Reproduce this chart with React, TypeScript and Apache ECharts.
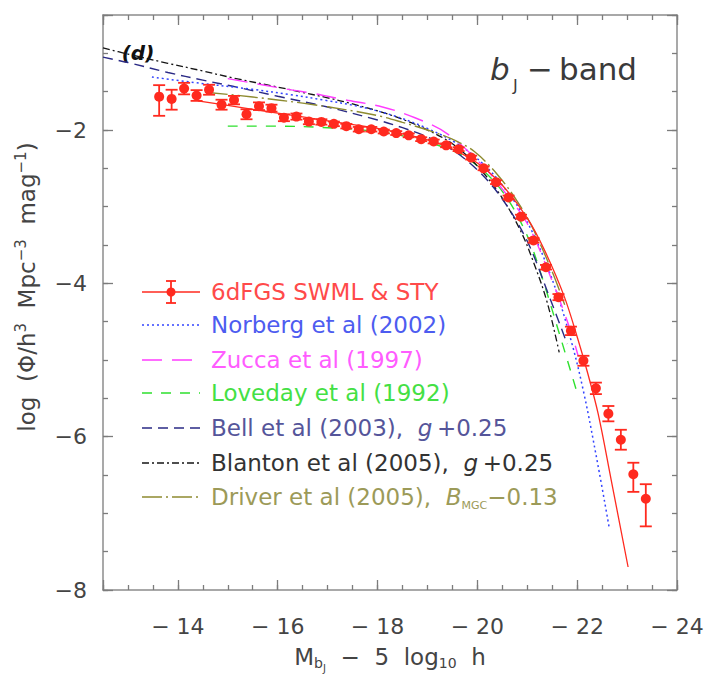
import React, { useEffect, useRef } from 'react';
import * as echarts from 'echarts';

// ---- data ----
const magnitudes = [
  -13.625, -13.875, -14.125, -14.375, -14.625, -14.875, -15.125, -15.375, -15.625, -15.875,
  -16.125, -16.375, -16.625, -16.875, -17.125, -17.375, -17.625, -17.875, -18.125, -18.375,
  -18.625, -18.875, -19.125, -19.375, -19.625, -19.875, -20.125, -20.375, -20.625, -20.875,
  -21.125, -21.375, -21.625, -21.875, -22.125, -22.375, -22.625, -22.875, -23.125, -23.375,
];
const swmlLogPhi = [
  -1.565, -1.595, -1.46, -1.55, -1.475, -1.67, -1.61, -1.795, -1.69, -1.715,
  -1.84, -1.825, -1.89, -1.895, -1.92, -1.95, -1.99, -1.99, -2.02, -2.04,
  -2.07, -2.12, -2.15, -2.2, -2.25, -2.36, -2.5, -2.68, -2.88, -3.13,
  -3.44, -3.79, -4.18, -4.62, -5.01, -5.37, -5.7, -6.04, -6.49, -6.81,
];
const swmlErrUp = [
  0.15, 0.12, 0.075, 0.07, 0.065, 0.065, 0.055, 0.065, 0.05, 0.045,
  0.045, 0.04, 0.035, 0.035, 0.03, 0.03, 0.03, 0.03, 0.025, 0.025,
  0.025, 0.025, 0.025, 0.025, 0.025, 0.025, 0.025, 0.025, 0.025, 0.025,
  0.03, 0.03, 0.04, 0.055, 0.065, 0.075, 0.1, 0.13, 0.15, 0.19,
];
const swmlErrDown = [
  0.25, 0.14, 0.075, 0.07, 0.065, 0.065, 0.055, 0.065, 0.05, 0.045,
  0.045, 0.04, 0.035, 0.035, 0.03, 0.03, 0.03, 0.03, 0.025, 0.025,
  0.025, 0.025, 0.025, 0.025, 0.025, 0.025, 0.025, 0.025, 0.025, 0.025,
  0.03, 0.03, 0.04, 0.055, 0.065, 0.075, 0.1, 0.13, 0.23, 0.36,
];

const styFit = [
  [-14.4, -1.62], [-15, -1.68], [-16, -1.78], [-17, -1.88], [-18, -1.98], [-18.5, -2.05],
  [-19, -2.13], [-19.5, -2.25], [-20, -2.43], [-20.5, -2.72], [-21, -3.15], [-21.34, -3.56],
  [-21.74, -4.17], [-22.01, -4.72], [-22.21, -5.17], [-22.42, -5.7], [-22.68, -6.56], [-23.02, -7.7],
];
const norberg = [
  [-13.48, -1.31], [-14.45, -1.39], [-15.5, -1.47], [-16.26, -1.54], [-16.93, -1.61], [-17.6, -1.69],
  [-18.26, -1.8], [-18.93, -1.96], [-19.6, -2.18], [-20.13, -2.45], [-20.5, -2.72], [-21, -3.2],
  [-21.5, -3.95], [-21.88, -4.75], [-22.14, -5.45], [-22.41, -6.35], [-22.64, -7.18],
];
const zucca = [
  [-15.0, -1.33], [-15.6, -1.4], [-16.3, -1.48], [-16.7, -1.52], [-17.3, -1.6], [-18.1, -1.7],
  [-18.75, -1.84], [-19.4, -2.05], [-20.13, -2.48], [-20.5, -2.77], [-21.0, -3.22], [-21.5, -3.97],
  [-21.88, -4.64], [-22.02, -4.95],
];
const loveday = [
  [-15.0, -1.95], [-16.0, -1.95], [-17.0, -1.97], [-18.0, -2.02], [-18.6, -2.09], [-19.3, -2.22],
  [-19.87, -2.4], [-20.5, -2.8], [-21.0, -3.38], [-21.3, -3.93], [-21.57, -4.5], [-22.01, -5.45],
];
const bell = [
  [-12.5, -1.05], [-13.0, -1.12], [-13.8, -1.25], [-14.5, -1.35], [-15.1, -1.43], [-16.0, -1.56],
  [-17.0, -1.7], [-18.0, -1.87], [-18.5, -1.97], [-19.0, -2.09], [-19.5, -2.26], [-20.0, -2.52],
  [-20.5, -2.9], [-21.0, -3.45], [-21.44, -4.17], [-21.8, -4.79],
];
const blanton = [
  [-12.5, -0.93], [-13.0, -1.01], [-13.8, -1.13], [-14.5, -1.23], [-15.1, -1.32], [-16.0, -1.44],
  [-16.5, -1.51], [-17.0, -1.58], [-17.5, -1.66], [-18.0, -1.75], [-18.5, -1.86], [-19.0, -2.0],
  [-19.5, -2.18], [-20.0, -2.47], [-20.47, -2.86], [-20.87, -3.32], [-21.14, -3.75], [-21.4, -4.25],
  [-21.64, -4.9],
];
const driver = [
  [-14.6, -1.51], [-15.5, -1.57], [-16.5, -1.65], [-17.5, -1.75], [-18.06, -1.82], [-18.5, -1.9],
  [-19.0, -2.0], [-19.5, -2.12], [-19.94, -2.28], [-20.4, -2.58], [-20.8, -2.93], [-21.11, -3.28],
  [-21.5, -3.85], [-21.75, -4.28],
];

const X_MIN = -24, X_MAX = -12.5, Y_MIN = -8, Y_MAX = -0.5;

const FONT = 'DejaVu Sans';
const RED = '#ff2a1f';

interface CurveDef { name: string; data: number[][]; color: string; dash: number[]; width: number; textColor: string; label: string; }

const curves: CurveDef[] = [
  { name: 'Loveday', data: loveday, color: '#2ee02e', dash: [10, 9], width: 1.4, textColor: '#44e044', label: '{n|Loveday et al (1992)}' },
  { name: 'Blanton', data: blanton, color: '#151515', dash: [7, 3, 2, 3], width: 1.3, textColor: '#333333', label: '{n|Blanton et al (2005),  }{i|g}{n|\u2009+0.25}' },
  { name: 'Bell', data: bell, color: '#2a2a85', dash: [10, 6], width: 1.4, textColor: '#55559a', label: '{n|Bell et al (2003),  }{i|g}{n|\u2009+0.25}' },
  { name: 'Norberg', data: norberg, color: '#3344ff', dash: [2, 3], width: 1.5, textColor: '#4d5cf0', label: '{n|Norberg et al (2002)}' },
  { name: 'Zucca', data: zucca, color: '#ff3cff', dash: [20, 10], width: 1.4, textColor: '#ff5cff', label: '{n|Zucca et al (1997)}' },
  { name: 'Driver', data: driver, color: '#8e8b30', dash: [20, 4, 2, 4], width: 1.4, textColor: '#9c9a58', label: '{n|Driver et al (2005),  }{i|B}{s|MGC}{n|\u22120.13}' },
];

const legendOrder = ['Norberg', 'Zucca', 'Loveday', 'Bell', 'Blanton', 'Driver'];

export default function App() {
  const ref = useRef<HTMLDivElement>(null);
  useEffect(() => {
    if (!ref.current) return;
    const chart = echarts.init(ref.current, undefined, { renderer: 'svg' });

    const axisLineStyle = { color: '#8c8c8c', width: 1.5 };
    const tickStyle = { color: '#7c7c7c', width: 1.3 };
    const xBase = { type: 'value', min: X_MIN, max: X_MAX, inverse: true, splitLine: { show: false } };
    const yBase = { type: 'value', min: Y_MIN, max: Y_MAX, splitLine: { show: false } };
    const fmtX = (v: number) => (Math.abs(v % 2) < 1e-9 ? '\u2212 ' + Math.abs(v) : '');
    const fmtY = (v: number) => (Math.abs(v % 2) < 1e-9 ? '\u2212' + Math.abs(v) : '');

    const xAxis = [
      { ...xBase, position: 'bottom', interval: 2,
        axisLine: { show: true, onZero: false, lineStyle: axisLineStyle },
        axisTick: { show: true, inside: true, length: 10, lineStyle: tickStyle },
        axisLabel: { show: true, margin: 25, fontSize: 22, color: '#444', fontFamily: FONT, formatter: fmtX } },
      { ...xBase, position: 'bottom', interval: 0.5,
        axisLine: { show: false, onZero: false },
        axisTick: { show: true, inside: true, length: 5, lineStyle: tickStyle }, axisLabel: { show: false } },
      { ...xBase, position: 'top', interval: 2,
        axisLine: { show: true, onZero: false, lineStyle: axisLineStyle },
        axisTick: { show: true, inside: true, length: 10, lineStyle: tickStyle }, axisLabel: { show: false } },
      { ...xBase, position: 'top', interval: 0.5,
        axisLine: { show: false, onZero: false },
        axisTick: { show: true, inside: true, length: 5, lineStyle: tickStyle }, axisLabel: { show: false } },
    ];
    const yAxis = [
      { ...yBase, position: 'left', interval: 2,
        axisLine: { show: true, onZero: false, lineStyle: axisLineStyle },
        axisTick: { show: true, inside: true, length: 10, lineStyle: tickStyle },
        axisLabel: { show: true, margin: 16, fontSize: 22, color: '#444', fontFamily: FONT, formatter: fmtY } },
      { ...yBase, position: 'left', interval: 0.5,
        axisLine: { show: false, onZero: false },
        axisTick: { show: true, inside: true, length: 5, lineStyle: tickStyle }, axisLabel: { show: false } },
      { ...yBase, position: 'right', interval: 2,
        axisLine: { show: true, onZero: false, lineStyle: axisLineStyle },
        axisTick: { show: true, inside: true, length: 10, lineStyle: tickStyle }, axisLabel: { show: false } },
      { ...yBase, position: 'right', interval: 0.5,
        axisLine: { show: false, onZero: false },
        axisTick: { show: true, inside: true, length: 5, lineStyle: tickStyle }, axisLabel: { show: false } },
    ];

    const lineSeries: any[] = curves.map((c, i) => ({
      type: 'line', name: c.name, data: c.data, xAxisIndex: 0, yAxisIndex: 0,
      showSymbol: false, symbol: 'none', smooth: 0.35,
      lineStyle: { color: c.color, width: c.width, type: c.dash },
      z: 2 + i * 0.1, silent: true,
    }));
    lineSeries.push({
      type: 'line', name: 'STY', data: styFit, xAxisIndex: 0, yAxisIndex: 0,
      showSymbol: false, symbol: 'none', smooth: 0.35,
      lineStyle: { color: RED, width: 1.3, type: 'solid' }, z: 3, silent: true,
    });

    const errData = magnitudes.map((m, i) => [m, swmlLogPhi[i] + swmlErrUp[i], swmlLogPhi[i] - swmlErrDown[i]]);

    const errorSeries = {
      type: 'custom', xAxisIndex: 0, yAxisIndex: 0, data: errData, z: 4, silent: true,
      encode: { x: 0, y: [1, 2] },
      renderItem: (_params: any, api: any) => {
        const x = api.value(0);
        const hi = api.coord([x, api.value(1)]);
        const lo = api.coord([x, api.value(2)]);
        const w = 6;
        const st = { stroke: RED, lineWidth: 1.8 };
        return {
          type: 'group',
          children: [
            { type: 'line', shape: { x1: hi[0], y1: hi[1], x2: lo[0], y2: lo[1] }, style: st },
            { type: 'line', shape: { x1: hi[0] - w, y1: hi[1], x2: hi[0] + w, y2: hi[1] }, style: st },
            { type: 'line', shape: { x1: lo[0] - w, y1: lo[1], x2: lo[0] + w, y2: lo[1] }, style: st },
          ],
        };
      },
    };

    const pointSeries = {
      type: 'scatter', xAxisIndex: 0, yAxisIndex: 0,
      data: magnitudes.map((m, i) => [m, swmlLogPhi[i]]),
      symbol: 'circle', symbolSize: 10, itemStyle: { color: RED, opacity: 1 }, z: 5, silent: true,
    };

    // legend drawn with graphic elements
    const rowsY = [292, 325, 360, 393, 428, 463, 497];
    const lx1 = 142, lx2 = 200, tx = 211;
    const richBase = (col: string) => ({
      n: { fontFamily: FONT, fontSize: 23, fill: col, color: col, lineHeight: 28, verticalAlign: 'middle' },
      i: { fontFamily: FONT, fontSize: 23, fontStyle: 'italic', fill: col, color: col, lineHeight: 28, verticalAlign: 'middle' },
      s: { fontFamily: FONT, fontSize: 11, fill: col, color: col, lineHeight: 11, verticalAlign: 'bottom' },
    });
    const legendEls: any[] = [];
    const y0 = rowsY[0];
    legendEls.push({ type: 'line', shape: { x1: lx1, y1: y0, x2: lx2, y2: y0 }, style: { stroke: RED, lineWidth: 1.6 } });
    legendEls.push({ type: 'line', shape: { x1: 171, y1: y0 - 11, x2: 171, y2: y0 + 11 }, style: { stroke: RED, lineWidth: 1.8 } });
    legendEls.push({ type: 'line', shape: { x1: 166, y1: y0 - 11, x2: 176, y2: y0 - 11 }, style: { stroke: RED, lineWidth: 1.8 } });
    legendEls.push({ type: 'line', shape: { x1: 166, y1: y0 + 11, x2: 176, y2: y0 + 11 }, style: { stroke: RED, lineWidth: 1.8 } });
    legendEls.push({ type: 'circle', shape: { cx: 171, cy: y0, r: 4.5 }, style: { fill: RED } });
    legendEls.push({
      type: 'text', x: tx, y: y0,
      style: { text: '{n|6dFGS SWML & STY}', rich: richBase('#ff4a4a'), align: 'left', verticalAlign: 'middle', textAlign: 'left', textVerticalAlign: 'middle' },
    });
    legendOrder.forEach((nm, k) => {
      const c = curves.find((q) => q.name === nm)!;
      const y = rowsY[k + 1];
      legendEls.push({
        type: 'line', shape: { x1: lx1, y1: y, x2: lx2, y2: y },
        style: { stroke: c.color, lineWidth: c.width + 0.1, lineDash: c.dash },
      });
      legendEls.push({
        type: 'text', x: tx, y,
        style: { text: c.label, rich: richBase(c.textColor), align: 'left', verticalAlign: 'middle', textAlign: 'left', textVerticalAlign: 'middle' },
      });
    });

    const grey = '#444444';
    const annotations: any[] = [
      { type: 'text', x: 138, y: 53, style: { text: '(d)', fontFamily: FONT, fontSize: 20, fontWeight: 'bold', fontStyle: 'italic', fill: '#111', align: 'center', verticalAlign: 'middle', textAlign: 'center', textVerticalAlign: 'middle' } },
      { type: 'text', x: 490, y: 69, style: { text: 'b', fontFamily: FONT, fontSize: 31, fontStyle: 'italic', fill: '#3a3a3a', align: 'left', verticalAlign: 'middle', textAlign: 'left', textVerticalAlign: 'middle' } },
      { type: 'text', x: 513, y: 85, style: { text: 'J', fontFamily: FONT, fontSize: 16, fill: '#3a3a3a', align: 'left', verticalAlign: 'middle', textAlign: 'left', textVerticalAlign: 'middle' } },
      { type: 'text', x: 527, y: 69, style: { text: '\u2212', fontFamily: FONT, fontSize: 31, fill: '#3a3a3a', align: 'left', verticalAlign: 'middle', textAlign: 'left', textVerticalAlign: 'middle' } },
      { type: 'text', x: 559, y: 69, style: { text: 'band', fontFamily: FONT, fontSize: 31, fill: '#3a3a3a', align: 'left', verticalAlign: 'middle', textAlign: 'left', textVerticalAlign: 'middle' } },
      {
        type: 'text', x: 390, y: 657,
        style: {
          text: '{n|M}{s|b}{ss|J}{n|  \u2212  5  log}{s|10}{n|  h}',
          rich: {
            n: { fontFamily: FONT, fontSize: 23, fill: grey, color: grey, lineHeight: 32, verticalAlign: 'middle' },
            s: { fontFamily: FONT, fontSize: 14, fill: grey, color: grey, lineHeight: 14, padding: [0, 0, 3, 0], verticalAlign: 'bottom' },
            ss: { fontFamily: FONT, fontSize: 10, fill: grey, color: grey, lineHeight: 10, verticalAlign: 'bottom' },
          },
          align: 'center', verticalAlign: 'middle', textAlign: 'center', textVerticalAlign: 'middle',
        },
      },
      {
        type: 'text', x: 27, y: 287, rotation: Math.PI / 2,
        style: {
          text: '{n|log  (\u03A6/h}{p|3}{n|  Mpc}{p|\u22123}{n|  mag}{p|\u22121}{n|)}',
          rich: {
            n: { fontFamily: FONT, fontSize: 23, fill: grey, color: grey, lineHeight: 28, verticalAlign: 'middle' },
            p: { fontFamily: FONT, fontSize: 15, fill: grey, color: grey, lineHeight: 15, verticalAlign: 'top' },
          },
          align: 'center', verticalAlign: 'middle', textAlign: 'center', textVerticalAlign: 'middle',
        },
      },
    ];

    chart.setOption({
      animation: false,
      backgroundColor: '#ffffff',
      textStyle: { fontFamily: FONT },
      grid: { left: 103, right: 31, top: 15, bottom: 87, containLabel: false },
      xAxis,
      yAxis,
      series: [...lineSeries, errorSeries, pointSeries],
      graphic: { elements: [...legendEls, ...annotations] },
    } as any);

    return () => chart.dispose();
  }, []);

  return <div ref={ref} style={{ position: 'fixed', left: 0, top: 0, width: 708, height: 677, background: '#fff' }} />;
}
